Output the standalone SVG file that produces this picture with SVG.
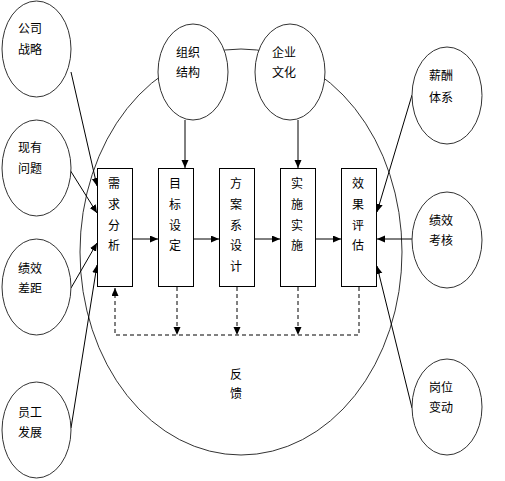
<svg xmlns="http://www.w3.org/2000/svg" width="505" height="481" viewBox="0 0 505 481">
<style>
.ell{fill:#fff;stroke:#333;stroke-width:1}
.box{fill:#fff;stroke:#000;stroke-width:1}
.ln{fill:none;stroke:#000;stroke-width:1}
.dash{fill:none;stroke:#000;stroke-width:1;stroke-dasharray:4,3}
text{font-family:"Noto Sans CJK SC","Liberation Sans",sans-serif;font-size:12px;fill:#000}
.c{text-anchor:middle}
</style>
<defs>
<marker id="ah" markerUnits="userSpaceOnUse" markerWidth="9" markerHeight="8" refX="8" refY="3.5" orient="auto">
<path d="M0,0 L8,3.5 L0,7 z" fill="#000"/>
</marker>
</defs>
<rect width="505" height="481" fill="#fff"/>
<ellipse id="big" cx="241" cy="252" rx="161" ry="203" fill="none" stroke="#333" stroke-width="1"/>
<g id="connectors">
<line class="ln" x1="71" y1="72" x2="97" y2="186" marker-end="url(#ah)"/>
<line class="ln" x1="70" y1="170" x2="97" y2="213" marker-end="url(#ah)"/>
<line class="ln" x1="71" y1="288" x2="97" y2="243" marker-end="url(#ah)"/>
<line class="ln" x1="71" y1="428" x2="97" y2="265" marker-end="url(#ah)"/>
<line class="ln" x1="412" y1="95" x2="377" y2="212" marker-end="url(#ah)"/>
<line class="ln" x1="412" y1="239" x2="377" y2="239" marker-end="url(#ah)"/>
<line class="ln" x1="412" y1="408" x2="377" y2="266" marker-end="url(#ah)"/>
<line class="ln" x1="185" y1="120" x2="185" y2="168" marker-end="url(#ah)"/>
<line class="ln" x1="298" y1="120" x2="298" y2="168" marker-end="url(#ah)"/>
<line class="ln" x1="132" y1="239" x2="158" y2="239" marker-end="url(#ah)"/>
<line class="ln" x1="193" y1="239" x2="219" y2="239" marker-end="url(#ah)"/>
<line class="ln" x1="254" y1="239" x2="280" y2="239" marker-end="url(#ah)"/>
<line class="ln" x1="315" y1="239" x2="341" y2="239" marker-end="url(#ah)"/>
<line class="dash" x1="177" y1="287" x2="177" y2="335" marker-end="url(#ah)"/>
<line class="dash" x1="237" y1="287" x2="237" y2="335" marker-end="url(#ah)"/>
<line class="dash" x1="298" y1="287" x2="298" y2="335" marker-end="url(#ah)"/>
<polyline class="dash" points="359,287 359,335 115,335 115,288" marker-end="url(#ah)"/>
</g>
<g id="n-gongsizhanlue"><ellipse class="ell" cx="36.5" cy="49" rx="34.5" ry="48"/><text x="18" y="32.5">公司</text><text x="18" y="53.5">战略</text></g>
<g id="n-xianyouwenti"><ellipse class="ell" cx="36.5" cy="168" rx="34.5" ry="48"/><text x="18" y="151.5">现有</text><text x="18" y="172.5">问题</text></g>
<g id="n-jixiaochaju"><ellipse class="ell" cx="36.5" cy="287" rx="34.5" ry="48"/><text x="18" y="272.5">绩效</text><text x="18" y="292.5">差距</text></g>
<g id="n-yuangongfazhan"><ellipse class="ell" cx="36.5" cy="430" rx="34.5" ry="48"/><text x="18" y="416.5">员工</text><text x="18" y="436.5">发展</text></g>
<g id="n-zuzhijiegou"><ellipse class="ell" cx="193" cy="72" rx="35" ry="48"/><text x="176" y="56.5">组织</text><text x="176" y="76.5">结构</text></g>
<g id="n-qiyewenhua"><ellipse class="ell" cx="290" cy="72" rx="35" ry="48"/><text x="272" y="56.5">企业</text><text x="272" y="76.5">文化</text></g>
<g id="n-xinchoutixi"><ellipse class="ell" cx="447" cy="95.5" rx="35" ry="48.5"/><text x="429" y="79.5">薪酬</text><text x="429" y="101.5">体系</text></g>
<g id="n-jixiaokaohe"><ellipse class="ell" cx="447" cy="240" rx="35" ry="48"/><text x="429" y="224.5">绩效</text><text x="429" y="244.5">考核</text></g>
<g id="n-gangweibiandong"><ellipse class="ell" cx="447" cy="407" rx="35" ry="48"/><text x="429" y="391.5">岗位</text><text x="429" y="411.5">变动</text></g>
<g id="b-xuqiufenxi"><rect class="box" x="97.5" y="168.5" width="35" height="118"/><text class="c" x="114" y="187.5">需</text><text class="c" x="114" y="208.5">求</text><text class="c" x="114" y="229.5">分</text><text class="c" x="114" y="249.5">析</text></g>
<g id="b-mubiaosheding"><rect class="box" x="158.5" y="168.5" width="35" height="118"/><text class="c" x="175" y="187.5">目</text><text class="c" x="175" y="208.5">标</text><text class="c" x="175" y="229.5">设</text><text class="c" x="175" y="249.5">定</text></g>
<g id="b-fanganxisheji"><rect class="box" x="219.5" y="168.5" width="35" height="118"/><text class="c" x="236" y="187.5">方</text><text class="c" x="236" y="208.5">案</text><text class="c" x="236" y="229.5">系</text><text class="c" x="236" y="249.5">设</text><text class="c" x="236" y="270.5">计</text></g>
<g id="b-shishishishi"><rect class="box" x="280.5" y="168.5" width="35" height="118"/><text class="c" x="297" y="187.5">实</text><text class="c" x="297" y="208.5">施</text><text class="c" x="297" y="229.5">实</text><text class="c" x="297" y="249.5">施</text></g>
<g id="b-xiaoguopinggu"><rect class="box" x="341.5" y="168.5" width="35" height="118"/><text class="c" x="358" y="187.5">效</text><text class="c" x="358" y="208.5">果</text><text class="c" x="358" y="229.5">评</text><text class="c" x="358" y="249.5">估</text></g>
<g id="l-fankui"><text class="c" x="236" y="378.5">反</text><text class="c" x="236" y="397.5">馈</text></g>
</svg>
